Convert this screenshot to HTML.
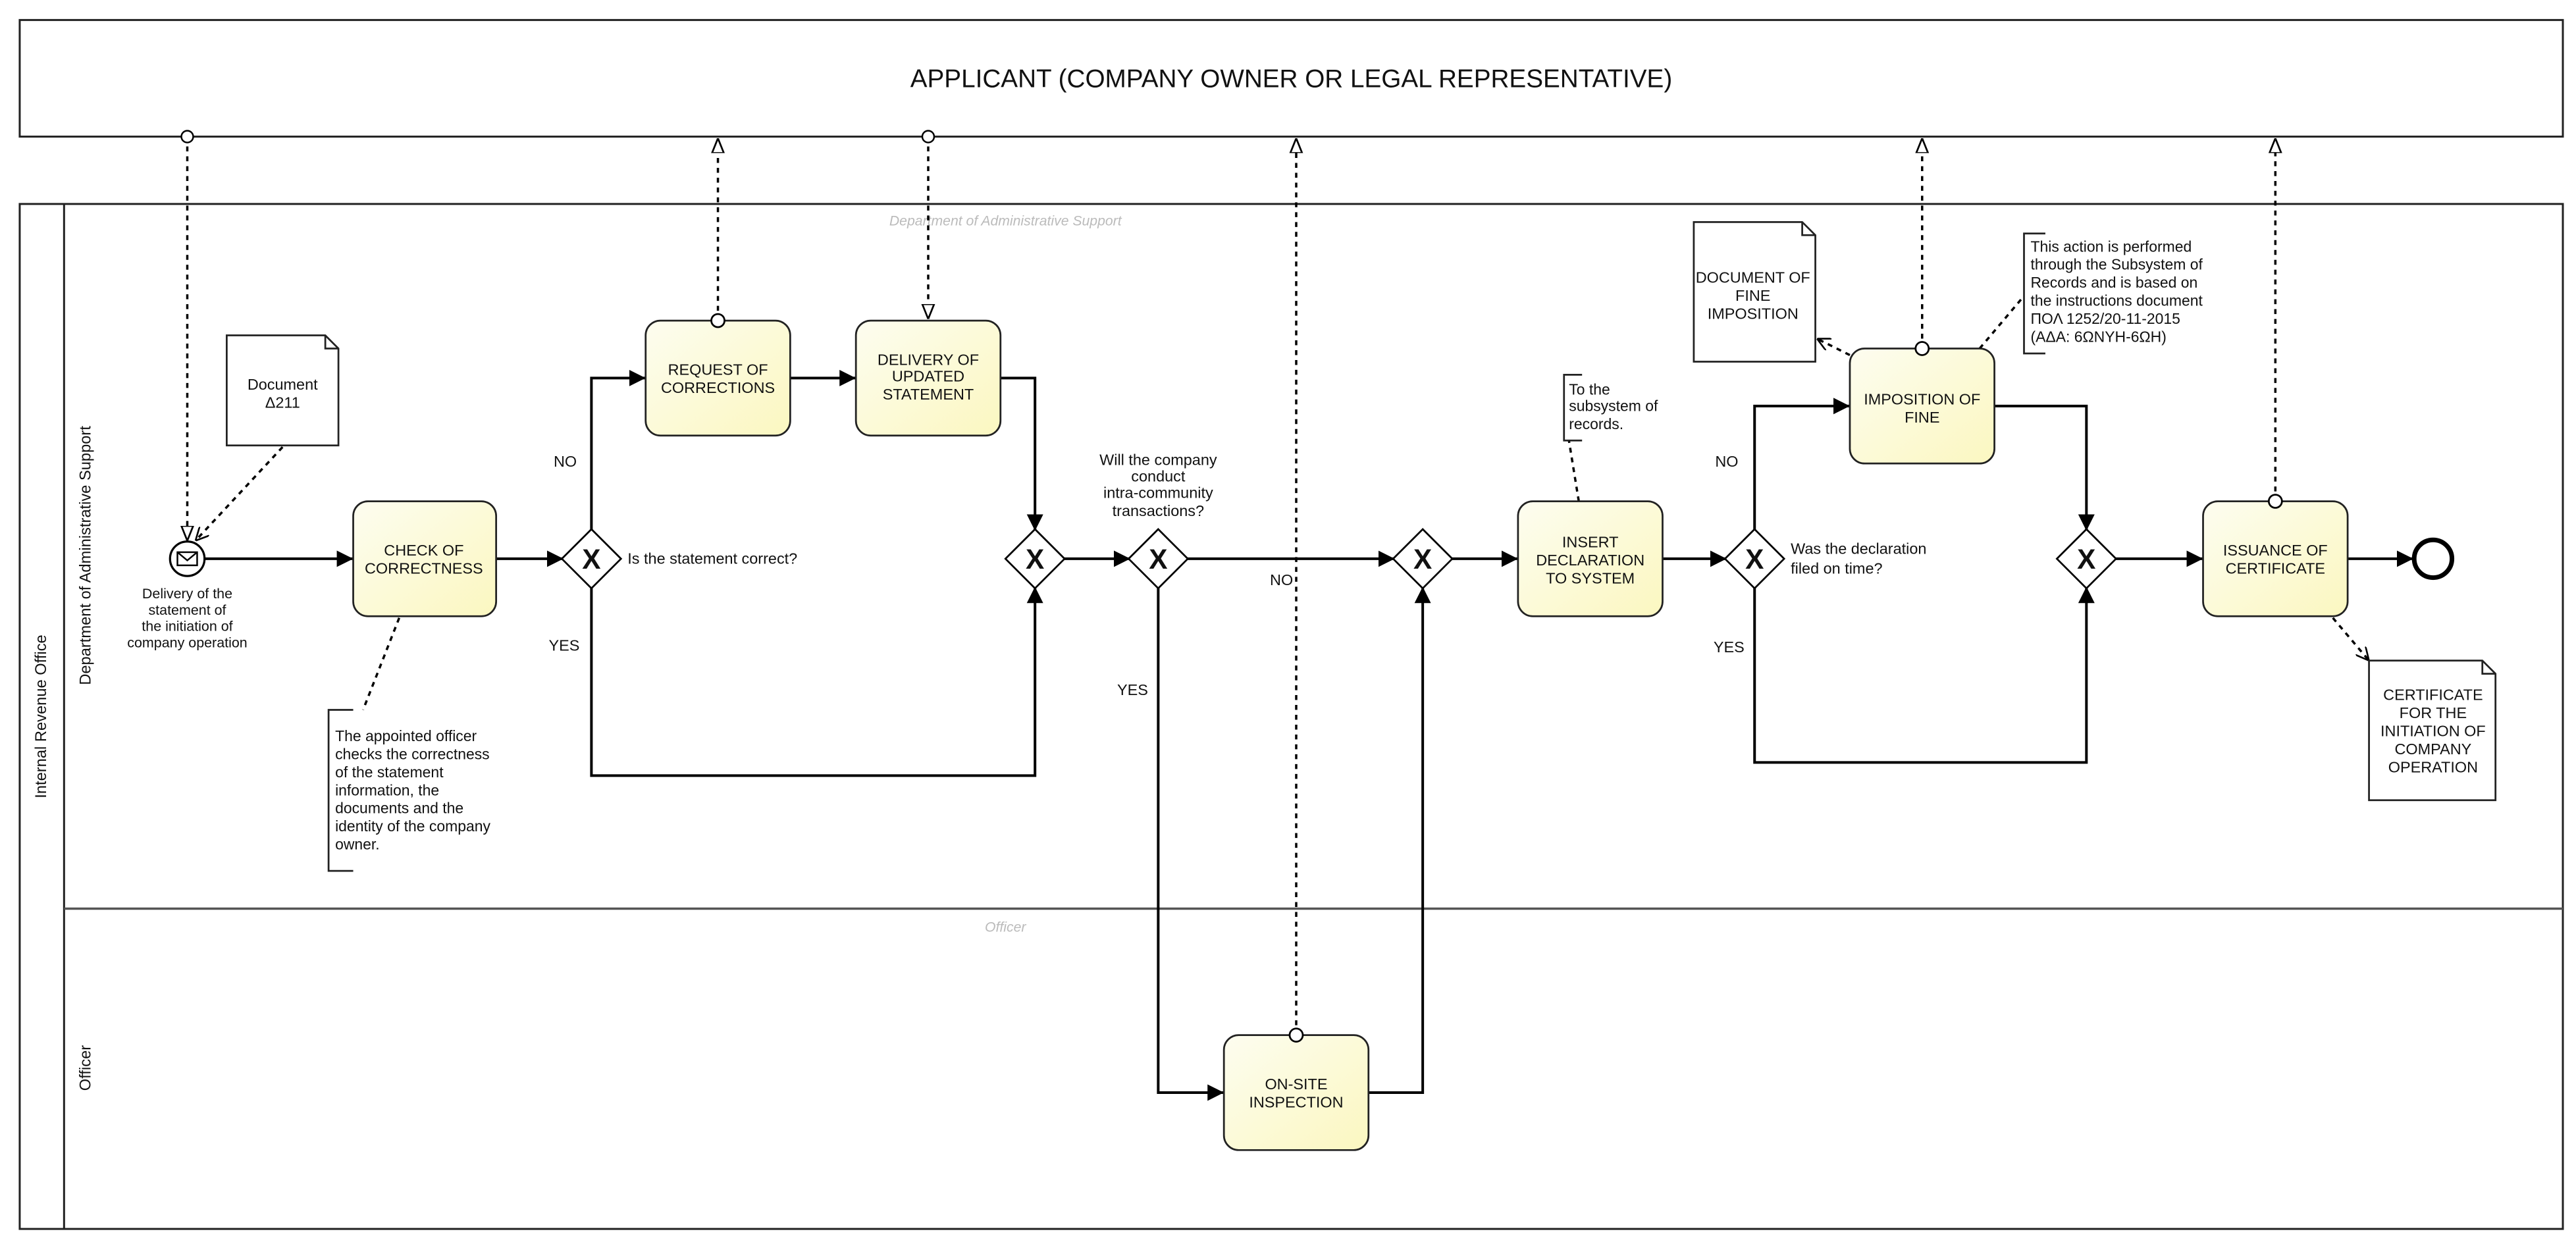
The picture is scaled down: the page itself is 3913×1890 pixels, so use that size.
<!DOCTYPE html>
<html><head><meta charset="utf-8"><style>
html,body{margin:0;padding:0;background:#fff;}
svg{display:block;}
text{font-family:"Liberation Sans",sans-serif;fill:#111;}
</style></head><body>
<svg width="3913" height="1890" viewBox="0 0 1568 757" xmlns="http://www.w3.org/2000/svg">
<defs>
<linearGradient id="g" x1="0" y1="0" x2="1" y2="1"><stop offset="0" stop-color="#fdfdf0"/><stop offset="1" stop-color="#fbf7c0"/></linearGradient>
<marker id="a" viewBox="0 0 10 10" refX="10" refY="5" markerWidth="10" markerHeight="10" markerUnits="userSpaceOnUse" orient="auto"><path d="M0,0 L10,5 L0,10 z" fill="#000"/></marker>
<marker id="h" viewBox="0 0 10 10" refX="10" refY="5" markerWidth="9" markerHeight="9" markerUnits="userSpaceOnUse" orient="auto"><path d="M0,1 L10,5 L0,9 z" fill="#fff" stroke="#000" stroke-width="1.2"/></marker>
<marker id="o" viewBox="0 0 10 10" refX="5" refY="5" markerWidth="9" markerHeight="9" markerUnits="userSpaceOnUse"><circle cx="5" cy="5" r="4" fill="#fff" stroke="#000" stroke-width="1.1"/></marker>
<marker id="v" viewBox="0 0 10 10" refX="10" refY="5" markerWidth="8" markerHeight="8" markerUnits="userSpaceOnUse" orient="auto"><path d="M0,0 L10,5 L0,10" fill="none" stroke="#000" stroke-width="1.3"/></marker>
</defs>
<rect x="12" y="12" width="1548" height="71" fill="#fff" stroke="#222" stroke-width="1.2"/>
<text x="786" y="53" font-size="15.5" text-anchor="middle">APPLICANT (COMPANY OWNER OR LEGAL REPRESENTATIVE)</text>
<rect x="12" y="124" width="1548" height="624" fill="#fff" stroke="#222" stroke-width="1.2"/>
<line x1="39" y1="124" x2="39" y2="748" stroke="#222" stroke-width="1.2"/>
<line x1="39" y1="553" x2="1560" y2="553" stroke="#555" stroke-width="1.4"/>
<text transform="translate(28,436) rotate(-90)" font-size="9.5" text-anchor="middle">Internal Revenue Office</text>
<text transform="translate(55,338) rotate(-90)" font-size="9.5" text-anchor="middle">Department of Administrative Support</text>
<text transform="translate(55,650) rotate(-90)" font-size="9.5" text-anchor="middle">Officer</text>
<text x="612" y="137" font-size="8.5" style="fill:#bbb" font-style="italic" text-anchor="middle">Department of Administrative Support</text>
<text x="612" y="567" font-size="8.5" style="fill:#bbb" font-style="italic" text-anchor="middle">Officer</text>

<g fill="none" stroke="#000" stroke-width="1.6">
<path d="M124,340 H215" marker-end="url(#a)"/>
<path d="M302,340 H343" marker-end="url(#a)"/>
<path d="M360,323 V230 H393" marker-end="url(#a)"/>
<path d="M481,230 H521" marker-end="url(#a)"/>
<path d="M609,230 H630 V323" marker-end="url(#a)"/>
<path d="M360,357 V472 H630 V357" marker-end="url(#a)"/>
<path d="M647,340 H688" marker-end="url(#a)"/>
<path d="M722,340 H849" marker-end="url(#a)"/>
<path d="M705,357 V665 H745" marker-end="url(#a)"/>
<path d="M833,665 H866 V357" marker-end="url(#a)"/>
<path d="M883,340 H924" marker-end="url(#a)"/>
<path d="M1012,340 H1051" marker-end="url(#a)"/>
<path d="M1068,323 V247 H1126" marker-end="url(#a)"/>
<path d="M1214,247 H1270 V323" marker-end="url(#a)"/>
<path d="M1068,357 V464 H1270 V357" marker-end="url(#a)"/>
<path d="M1287,340 H1341" marker-end="url(#a)"/>
<path d="M1429,340 H1469" marker-end="url(#a)"/>
</g>
<g fill="none" stroke="#000" stroke-width="1.4" stroke-dasharray="3,3">
<path d="M114,83 V329" marker-start="url(#o)" marker-end="url(#h)"/>
<path d="M437,195 V84" marker-end="url(#h)"/>
<path d="M565,83 V194" marker-start="url(#o)" marker-end="url(#h)"/>
<path d="M789,630 V84" marker-end="url(#h)"/>
<path d="M1170,212 V84" marker-end="url(#h)"/>
<path d="M1385,305 V84" marker-end="url(#h)"/>
<path d="M172,272 L119,329" marker-end="url(#v)"/>
<path d="M1126,216 L1106,206" marker-end="url(#v)"/>
<path d="M1420,376 L1442,402" marker-end="url(#v)"/>
<path d="M243,376 L221,432"/>
<path d="M961,305 L955,268"/>
<path d="M1205,212 L1232,180"/>
</g>

<circle cx="114" cy="340" r="10.5" fill="#fff" stroke="#000" stroke-width="1.3"/>
<rect x="108" y="336" width="12" height="8" fill="#fff" stroke="#000" stroke-width="1"/>
<path d="M108,336 L114,341 L120,336" fill="none" stroke="#000" stroke-width="1"/>
<g font-size="8.6" text-anchor="middle">
<text x="114" y="364">Delivery of the</text><text x="114" y="374">statement of</text><text x="114" y="384">the initiation of</text><text x="114" y="394">company operation</text>
</g>
<circle cx="1481" cy="340" r="11.5" fill="#fff" stroke="#000" stroke-width="2.8"/>

<g stroke="#222" stroke-width="1.1" fill="url(#g)">
<rect x="215" y="305" width="87" height="70" rx="9"/>
<rect x="393" y="195" width="88" height="70" rx="9"/>
<rect x="521" y="195" width="88" height="70" rx="9"/>
<rect x="924" y="305" width="88" height="70" rx="9"/>
<rect x="1126" y="212" width="88" height="70" rx="9"/>
<rect x="1341" y="305" width="88" height="70" rx="9"/>
<rect x="745" y="630" width="88" height="70" rx="9"/>
</g>
<g fill="#fff" stroke="#000" stroke-width="1.1">
<circle cx="437" cy="195" r="4"/><circle cx="789" cy="630" r="4"/><circle cx="1170" cy="212" r="4"/><circle cx="1385" cy="305" r="4"/>
</g>
<g font-size="9.4" text-anchor="middle">
<text x="258" y="338">CHECK OF</text><text x="258" y="349">CORRECTNESS</text>
<text x="437" y="228">REQUEST OF</text><text x="437" y="239">CORRECTIONS</text>
<text x="565" y="222">DELIVERY OF</text><text x="565" y="232">UPDATED</text><text x="565" y="243">STATEMENT</text>
<text x="968" y="333">INSERT</text><text x="968" y="344">DECLARATION</text><text x="968" y="355">TO SYSTEM</text>
<text x="1170" y="246">IMPOSITION OF</text><text x="1170" y="257">FINE</text>
<text x="1385" y="338">ISSUANCE OF</text><text x="1385" y="349">CERTIFICATE</text>
<text x="789" y="663">ON-SITE</text><text x="789" y="674">INSPECTION</text>
</g>

<g stroke="#000" stroke-width="1.1" fill="#fff">
<path d="M360,322 L378,340 L360,358 L342,340 z"/>
<path d="M630,322 L648,340 L630,358 L612,340 z"/>
<path d="M705,322 L723,340 L705,358 L687,340 z"/>
<path d="M866,322 L884,340 L866,358 L848,340 z"/>
<path d="M1068,322 L1086,340 L1068,358 L1050,340 z"/>
<path d="M1270,322 L1288,340 L1270,358 L1252,340 z"/>
</g>
<g font-size="17" font-weight="bold" text-anchor="middle">
<text x="360" y="346">X</text><text x="630" y="346">X</text><text x="705" y="346">X</text><text x="866" y="346">X</text><text x="1068" y="346">X</text><text x="1270" y="346">X</text>
</g>
<g font-size="9.4">
<text x="382" y="343">Is the statement correct?</text>
<text x="337" y="284">NO</text><text x="334" y="396">YES</text>
<text x="773" y="356">NO</text><text x="680" y="423">YES</text>
<text x="1044" y="284">NO</text><text x="1043" y="397">YES</text>
<text x="1090" y="337">Was the declaration</text><text x="1090" y="349">filed on time?</text>
<text x="705" y="283" text-anchor="middle">Will the company</text><text x="705" y="293" text-anchor="middle">conduct</text><text x="705" y="303" text-anchor="middle">intra-community</text><text x="705" y="314" text-anchor="middle">transactions?</text>
</g>

<g stroke="#222" stroke-width="1.1" fill="#fff">
<path d="M138,204 H198 L206,212 V271 H138 z"/><path d="M198,204 V212 H206" fill="none"/>
<path d="M1031,135 H1097 L1105,143 V220 H1031 z"/><path d="M1097,135 V143 H1105" fill="none"/>
<path d="M1442,402 H1511 L1519,410 V487 H1442 z"/><path d="M1511,402 V410 H1519" fill="none"/>
</g>
<g font-size="9.4" text-anchor="middle">
<text x="172" y="237">Document</text><text x="172" y="248">Δ211</text>
<text x="1067" y="172">DOCUMENT OF</text><text x="1067" y="183">FINE</text><text x="1067" y="194">IMPOSITION</text>
<text x="1481" y="426">CERTIFICATE</text><text x="1481" y="437">FOR THE</text><text x="1481" y="448">INITIATION OF</text><text x="1481" y="459">COMPANY</text><text x="1481" y="470">OPERATION</text>
</g>

<g fill="none" stroke="#222" stroke-width="1.1">
<path d="M215,432 H200 V530 H215"/>
<path d="M963,228 H952 V268 H963"/>
<path d="M1245,142 H1232 V215 H1245"/>
</g>
<g font-size="9.2">
<text x="204" y="451">The appointed officer</text><text x="204" y="462">checks the correctness</text><text x="204" y="473">of the statement</text><text x="204" y="484">information, the</text><text x="204" y="495">documents and the</text><text x="204" y="506">identity of the company</text><text x="204" y="517">owner.</text>
<text x="955" y="240">To the</text><text x="955" y="250">subsystem of</text><text x="955" y="261">records.</text>
<text x="1236" y="153">This action is performed</text><text x="1236" y="164">through the Subsystem of</text><text x="1236" y="175">Records and is based on</text><text x="1236" y="186">the instructions document</text><text x="1236" y="197">ΠΟΛ 1252/20-11-2015</text><text x="1236" y="208">(ΑΔΑ: 6ΩΝΥΗ-6ΩΗ)</text>
</g>
</svg>
</body></html>
